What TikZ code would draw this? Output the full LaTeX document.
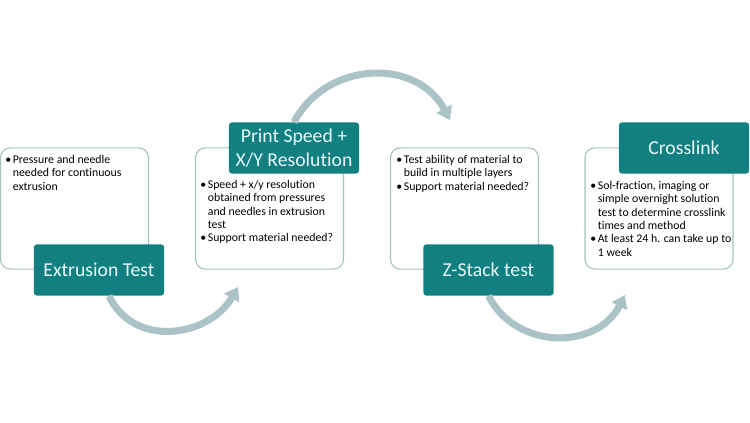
\documentclass[tikz,border=0pt]{standalone}
\usepackage{fontspec}
\setmainfont{Carlito}[Ligatures=NoCommon]
\usetikzlibrary{arrows.meta,positioning}

\definecolor{stepteal}{RGB}{18,127,128}
\definecolor{stepline}{RGB}{166,192,196}
\definecolor{steparrow}{RGB}{171,195,199}
\definecolor{steptext}{RGB}{232,248,248}

\newcommand{\itembullet}{\makebox[5.4pt][l]{\textbullet}}
\newcommand{\itemhang}{\hspace*{5.4pt}}

\tikzset{
  infobox/.style={draw=stepline, line width=0.8pt, rounded corners=7pt, fill=white,
    minimum width=3.7cm, minimum height=3.03cm},
  steplabel/.style={fill=stepteal, text=steptext, rounded corners=2pt,
    minimum width=3.25cm, minimum height=1.28cm, align=center,
    font=\fontsize{14}{17}\selectfont},
  notes/.style={anchor=north west, inner sep=0pt, align=left,
    font=\fontsize{8.4}{9.5}\selectfont},
  flow/.style={steparrow, line width=5pt, -{Triangle[width=12pt,length=9pt]}, looseness=1.15},
}

\begin{document}
\begin{tikzpicture}[x=0.025cm, y=0.025cm]
\useasboundingbox (0,0) rectangle (750,422);

% boxes
\node[infobox] (box1) at (74.5,213.5) {};
\node[infobox] (box2) at (269.5,213.5) {};
\node[infobox] (box3) at (464.5,213.5) {};
\node[infobox] (box4) at (659,213.5) {};

% notes
\node[notes] (note1) at (5,267) {\itembullet Pressure and needle\\
  \itemhang needed for continuous\\ \itemhang extrusion};
\node[notes] (note2) at (200,242) {\itembullet Speed + x/y resolution\\
  \itemhang obtained from pressures\\ \itemhang and needles in extrusion\\
  \itemhang test\\ \itembullet Support material needed?};
\node[notes] (note3) at (396,267) {\itembullet Test ability of material to\\
  \itemhang build in multiple layers\\ \itembullet Support material needed?};
\node[notes] (note4) at (590,241) {\itembullet Sol-fraction, imaging or\\
  \itemhang simple overnight solution\\ \itemhang test to determine crosslink\\
  \itemhang times and method\\ \itembullet At least 24 h. can take up to\\
  \itemhang 1 week};

% labels
\node[steplabel] (ext) at (99,152) {Extrusion Test};
\node[steplabel] (speed) at (294,274) {Print Speed +\\X/Y Resolution};
\node[steplabel] (zstack) at (488.5,152) {Z-Stack test};
\node[steplabel] (cross) at (684,274) {Crosslink};

% arrows
\coordinate (tip1) at (238,135);
\coordinate (tip2) at (450,302);
\coordinate (tip3) at (625,127);
\draw[flow] ([shift={(10,0)}]ext.south) to[out=-65,in=-120] (tip1);
\draw[flow] (speed.north) to[out=62,in=118] (tip2);
\draw[flow] (zstack.south) to[out=-63,in=-117] (tip3);
\end{tikzpicture}
\end{document}
